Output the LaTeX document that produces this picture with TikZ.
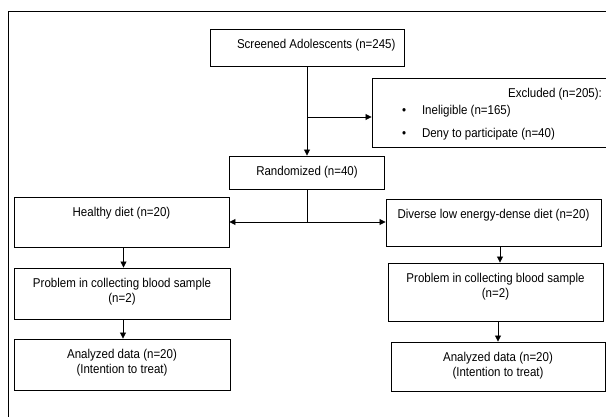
\documentclass[tikz,border=0pt]{standalone}
\usepackage{fontspec}
\setmainfont{Liberation Sans}[FakeStretch=0.9]
\usetikzlibrary{arrows.meta}
\newcommand{\boxtext}[3]{\parbox[c][#2][t]{#1}{\centering\vspace*{10pt}#3}}

\begin{document}
\begin{tikzpicture}[x=1pt,y=-1pt,line width=0.8pt,
    box/.style={draw, line width=0.9pt, inner sep=0pt, font=\fontsize{12.8}{15}\selectfont},
    arr/.style={-{Triangle[length=6pt,width=6pt]}}]
            \useasboundingbox (0,0) rectangle (606,417);
            \clip (0,0) rectangle (606,417);
            \draw[line width=0.9pt] (8,430) -- (8,11) -- (620,11);
            \node[box] (screened) at (307,47.5) {\boxtext{194pt}{37pt}{\makebox[194pt][l]{\hspace*{27pt}Screened Adolescents (n=245)}}};
            \node[box] (excluded) at (555,112.5) {\parbox[c][69pt][t]{366pt}{\vspace*{10pt}{\centering Excluded (n=205):\par}\vspace{2pt}\hspace*{30pt}\textbullet\hspace{16pt}Ineligible (n=165)\par\vspace{8pt}\hspace*{30pt}\textbullet\hspace{16pt}Deny to participate (n=40)}};
            \node[box] (rand) at (307,172.5) {\boxtext{155pt}{33pt}{Randomized (n=40)}};
            \node[box] (healthy) at (121.5,222) {\boxtext{215pt}{50pt}{Healthy diet (n=20)}};
            \node[box] (diverse) at (493.5,222.5) {\boxtext{215pt}{47pt}{Diverse low energy-dense diet (n=20)}};
            \node[box] (probL) at (122,293.5) {\boxtext{216pt}{51pt}{Problem in collecting blood sample\\(n=2)}};
            \node[box] (probR) at (495.5,292) {\boxtext{215pt}{58pt}{Problem in collecting blood sample\\(n=2)}};
            \node[box] (anaL) at (122,364.5) {\boxtext{216pt}{51pt}{Analyzed data (n=20)\\(Intention to treat)}};
            \node[box] (anaR) at (498,366.5) {\boxtext{214pt}{49pt}{Analyzed data (n=20)\\(Intention to treat)}};
            \draw[arr] (screened.south) -- (rand.north);
            \coordinate (tee) at (307,117);
            \draw[arr] (tee) -- (tee -| excluded.west);
            \draw (rand.south) -- (307,222) coordinate (split);
            \draw[arr] (split) -- (split -| healthy.east);
            \draw[arr] (split) -- (split -| diverse.west);
            \draw[arr] ([xshift=2pt]healthy.south) -- ([xshift=2pt]healthy.south |- probL.north);
            \draw[arr] ([xshift=1pt]probL.south) -- ([xshift=1pt]probL.south |- anaL.north);
            \draw[arr] ([xshift=6.5pt]diverse.south) -- ([xshift=6.5pt]diverse.south |- probR.north);
            \draw[arr] ([xshift=2.5pt]probR.south) -- ([xshift=2.5pt]probR.south |- anaR.north);
            \end{tikzpicture}
\end{document}
